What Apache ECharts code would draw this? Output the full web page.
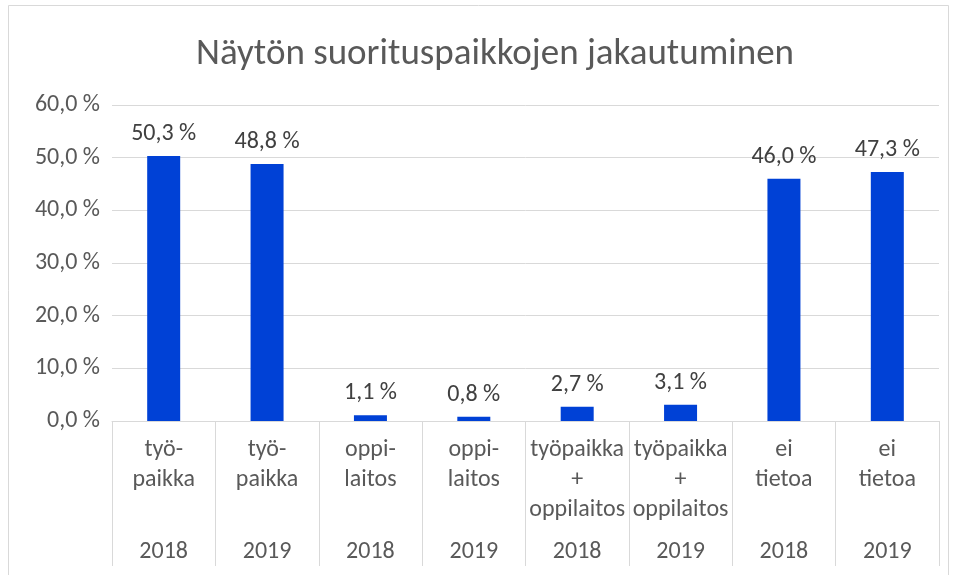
<!DOCTYPE html>
<html>
<head>
<meta charset="utf-8">
<script src="https://cdn.jsdelivr.net/npm/echarts@6/dist/echarts.min.js"></script>
<style>
  html, body { margin: 0; padding: 0; background: #fff; }
  #chart { width: 953px; height: 575px; }
</style>
</head>
<body>
<div id="chart"></div>
<script>
// suorituspaikat
var categories = ["työ-\npaikka", "työ-\npaikka", "oppi-\nlaitos", "oppi-\nlaitos",
    "työpaikka\n+\noppilaitos", "työpaikka\n+\noppilaitos", "ei\ntietoa", "ei\ntietoa"];
var years = ["2018", "2019", "2018", "2019", "2018", "2019", "2018", "2019"];
var values = [50.3, 48.8, 1.1, 0.8, 2.7, 3.1, 46.0, 47.3];
var yTicks = [0, 10, 20, 30, 40, 50, 60];

var font = "Carlito, Calibri, 'Liberation Sans', sans-serif";
var txtColor = "#595959";

function pct(v) {
    return v.toFixed(1).replace(".", ",") + " %";
}

var myChart = echarts.init(document.getElementById("chart"));
var option = {
    backgroundColor: "#fff",
    animation: false,
    title: {
        text: "Näytön suorituspaikkojen jakautuminen",
        left: 191,
        top: 31,
        textStyle: {fontFamily: font, fontSize: 37, fontWeight: "normal", color: txtColor}
    },
    graphic: [{
        type: "rect",
        shape: {x: 8.5, y: 5.5, width: 940, height: 600},
        style: {fill: "none", stroke: "#d9d9d9", lineWidth: 1},
        silent: true
    }],
    grid: {left: 112, right: 14, top: 105, bottom: 154},
    xAxis: [
        {
            type: "category",
            data: categories,
            axisLine: {show: true, lineStyle: {color: "#d9d9d9", width: 1}},
            axisTick: {show: true, interval: 0, length: 145, lineStyle: {color: "#d9d9d9"}},
            axisLabel: {
                interval: 0, margin: 14, verticalAlign: "top", lineHeight: 30,
                fontFamily: font, fontSize: 24, color: txtColor
            }
        },
        {
            type: "category",
            data: years,
            position: "bottom",
            offset: 119,
            axisLine: {show: false},
            axisTick: {show: false},
            axisLabel: {
                interval: 0, margin: 0, verticalAlign: "top",
                fontFamily: font, fontSize: 24, color: txtColor
            }
        }
    ],
    yAxis: {
        type: "value",
        min: yTicks[0],
        max: yTicks[yTicks.length - 1],
        interval: 10,
        axisLine: {show: false},
        axisTick: {show: false},
        splitLine: {lineStyle: {color: "#d9d9d9", width: 1}},
        axisLabel: {
            margin: 12, fontFamily: font, fontSize: 24, color: txtColor,
            formatter: function (v) { return pct(v); }
        }
    },
    series: [{
        type: "bar",
        data: values,
        barWidth: 33,
        itemStyle: {color: "#0041D6"},
        label: {
            show: true, position: "top", distance: 10,
            fontFamily: font, fontSize: 24, color: "#404040",
            formatter: function (p) { return pct(p.value); }
        }
    }]
};
myChart.setOption(option);
</script>
</body>
</html>
